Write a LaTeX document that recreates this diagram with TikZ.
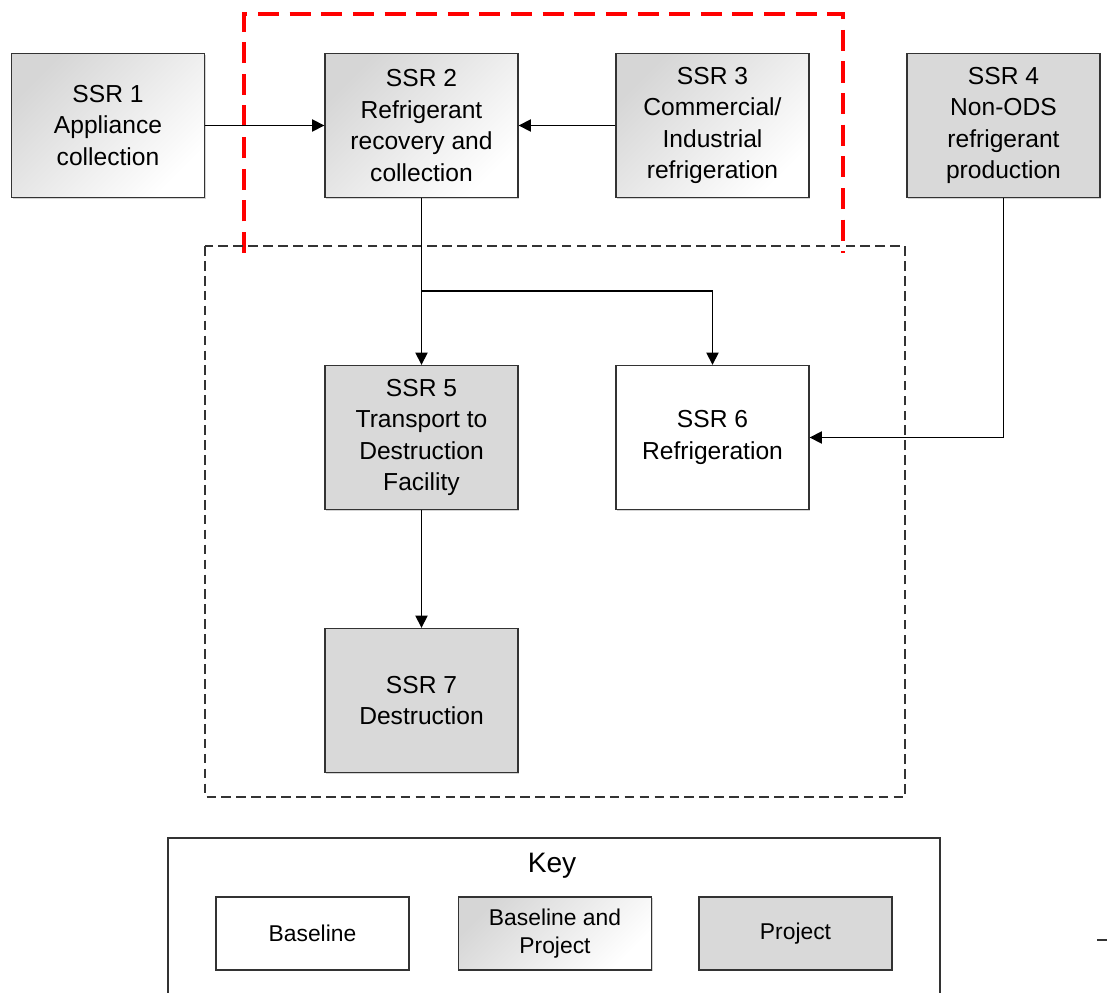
\documentclass[tikz,border=0pt]{standalone}
\usepackage{fontspec}
\setmainfont{Liberation Sans}
\usetikzlibrary{arrows.meta,shadows}

\begin{document}
\begin{tikzpicture}[x=0.02cm,y=-0.02cm,
  ssr/.style={draw=black!80, line width=0.8pt, minimum width=3.86cm, minimum height=2.88cm,
    align=center, font=\fontsize{14}{18}\selectfont, inner sep=2pt,
    drop shadow={shadow xshift=0.8pt, shadow yshift=-0.8pt, opacity=0.35}},
  base/.style={ssr, fill=white},
  both/.style={ssr, top color=black!16, bottom color=white, shading angle=45},
  proj/.style={ssr, fill=black!15},
  keysize/.style={minimum height=1.46cm, font=\fontsize{13}{16}\selectfont},
  flow/.style={-{Triangle[length=7pt,width=7pt]}, line width=0.9pt}]
\useasboundingbox (0,0) rectangle (1107,993);

% source boxes
\node[both] (s1) at (108,125.5) {SSR 1\\Appliance\\collection};
\node[both] (s2) at (421.5,125.5) {SSR 2\\Refrigerant\\recovery and\\collection};
\node[both] (s3) at (712.5,125.5) {SSR 3\\Commercial/\\Industrial\\refrigeration};
\node[proj] (s4) at (1003.5,125.5) {SSR 4\\Non-ODS\\refrigerant\\production};
\node[proj] (s5) at (421.5,437.5) {SSR 5\\Transport to\\Destruction\\Facility};
\node[base] (s6) at (712.5,437.5) {SSR 6\\Refrigeration};
\node[proj] (s7) at (421.5,700.5) {SSR 7\\Destruction};

% boundaries
\draw[red, line width=2.8pt, dash pattern=on 12pt off 6pt] (244,253) -- (244,14) -- (843,14) -- (843,253);
\draw[black!80, line width=0.8pt, dash pattern=on 5.5pt off 3pt] (205,246) rectangle (905,797);

% flows
\coordinate (split) at (421.5,291);
\draw[flow] (s1) -- (s2);
\draw[flow] (s3) -- (s2);
\draw[flow] (s2) -- (s5);
\draw[flow] (split) -| (s6.north);
\draw[flow] (s4.south) |- (s6.east);
\draw[flow] (s5) -- (s7);

% key
\draw[black!80, line width=0.8pt] (168,993) -- (168,838) -- (940,838) -- (940,993);
\node[font=\fontsize{16}{19}\selectfont] (key) at (552,866) {Key};
\node[base, keysize] (kb) at (312.5,933.5) {Baseline};
\node[both, keysize] (kbp) at (555,933.5) {Baseline and\\Project};
\node[proj, keysize] (kp) at (795.5,933.5) {Project};
\draw[black!80, line width=0.8pt] (1097,940) -- (1107,940);
\end{tikzpicture}
\end{document}
